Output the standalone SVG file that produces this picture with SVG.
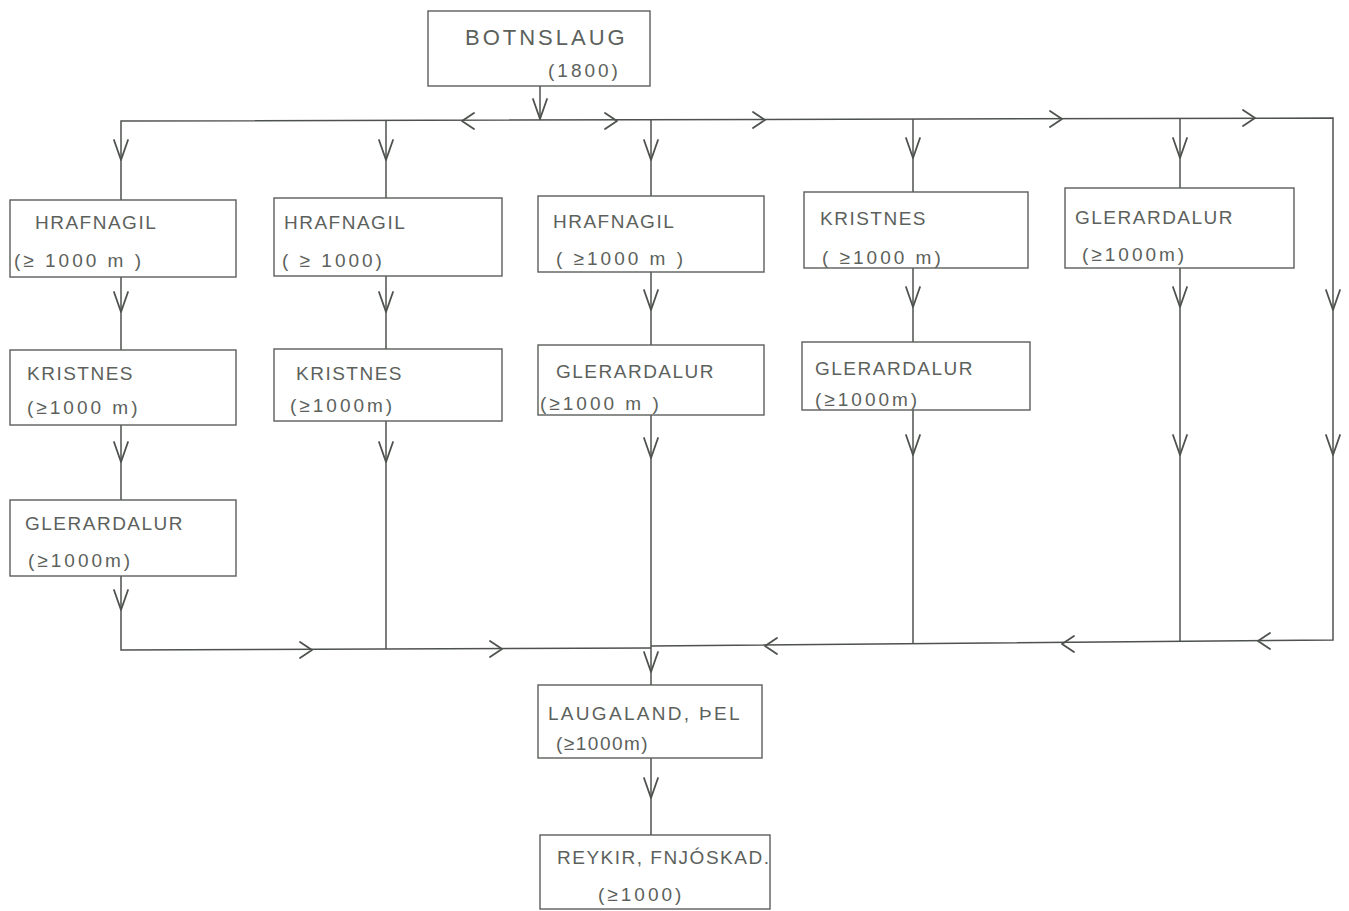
<svg xmlns="http://www.w3.org/2000/svg" xmlns:xlink="http://www.w3.org/1999/xlink" width="1349" height="911" viewBox="0 0 1349 911">
<style>
.bg{fill:#ffffff}
.box{fill:none;stroke:#5a5e5a;stroke-width:1.4}
.ln{fill:none;stroke:#4e524e;stroke-width:1.5}
.ah{fill:none;stroke:#4e524e;stroke-width:1.8;stroke-linecap:round;stroke-linejoin:round}
.t{font-family:"Liberation Sans",Arial,sans-serif;font-size:19px;fill:#5c615c;letter-spacing:1.5px}
.s{letter-spacing:3px}
</style>
<defs>
<path id="dn" class="ah" d="M-7,-20 L0,0 L7,-20"/>
<path id="rt" class="ah" d="M-12,-8 L0,0 L-12,8"/>
<path id="lt" class="ah" d="M12,-8 L0,0 L12,8"/>
</defs>
<rect class="bg" x="0" y="0" width="1349" height="911"/>

<g id="connectors">
<line class="ln" x1="540" y1="86" x2="540" y2="120"/>
<polyline class="ln" points="121,200 121,121 1333,118 1333,640 651,646"/>
<line class="ln" x1="386" y1="121" x2="386" y2="198"/>
<line class="ln" x1="651" y1="120" x2="651" y2="196"/>
<line class="ln" x1="913" y1="119" x2="913" y2="192"/>
<line class="ln" x1="1180" y1="119" x2="1180" y2="188"/>
<line class="ln" x1="121" y1="277" x2="121" y2="350"/>
<line class="ln" x1="121" y1="425" x2="121" y2="500"/>
<polyline class="ln" points="121,576 121,650 651,648"/>
<line class="ln" x1="386" y1="276" x2="386" y2="349"/>
<line class="ln" x1="386" y1="421" x2="386" y2="649"/>
<line class="ln" x1="651" y1="272" x2="651" y2="345"/>
<line class="ln" x1="651" y1="415" x2="651" y2="685"/>
<line class="ln" x1="913" y1="268" x2="913" y2="342"/>
<line class="ln" x1="913" y1="410" x2="913" y2="644"/>
<line class="ln" x1="1180" y1="268" x2="1180" y2="642"/>
<line class="ln" x1="651" y1="758" x2="651" y2="835"/>
<use xlink:href="#dn" x="540" y="119"/>
<use xlink:href="#lt" x="462" y="121"/>
<use xlink:href="#rt" x="617" y="121"/>
<use xlink:href="#rt" x="765" y="120"/>
<use xlink:href="#rt" x="1062" y="119"/>
<use xlink:href="#rt" x="1255" y="118"/>
<use xlink:href="#dn" x="121" y="160"/>
<use xlink:href="#dn" x="386" y="160"/>
<use xlink:href="#dn" x="651" y="160"/>
<use xlink:href="#dn" x="913" y="158"/>
<use xlink:href="#dn" x="1180" y="158"/>
<use xlink:href="#dn" x="121" y="312"/>
<use xlink:href="#dn" x="386" y="312"/>
<use xlink:href="#dn" x="651" y="310"/>
<use xlink:href="#dn" x="913" y="307"/>
<use xlink:href="#dn" x="1180" y="307"/>
<use xlink:href="#dn" x="1333" y="310"/>
<use xlink:href="#dn" x="121" y="462"/>
<use xlink:href="#dn" x="386" y="462"/>
<use xlink:href="#dn" x="651" y="458"/>
<use xlink:href="#dn" x="913" y="455"/>
<use xlink:href="#dn" x="1180" y="455"/>
<use xlink:href="#dn" x="1333" y="455"/>
<use xlink:href="#dn" x="121" y="610"/>
<use xlink:href="#rt" x="312" y="650"/>
<use xlink:href="#rt" x="502" y="649"/>
<use xlink:href="#lt" x="765" y="646"/>
<use xlink:href="#lt" x="1062" y="644"/>
<use xlink:href="#lt" x="1258" y="641"/>
<use xlink:href="#dn" x="651" y="672"/>
<use xlink:href="#dn" x="651" y="798"/>
</g>

<g id="botnslaug">
<rect class="box" x="428" y="11" width="222" height="75"/>
<text class="t" x="465" y="45" style="font-size:22px;letter-spacing:3px">BOTNSLAUG</text>
<text class="t s" x="548" y="77">(1800)</text>
</g>

<g id="hrafnagil-1">
<rect class="box" x="10" y="200" width="226" height="77"/>
<text class="t" x="35" y="229">HRAFNAGIL</text>
<text class="t s" x="14" y="267">(≥ 1000 m )</text>
</g>
<g id="hrafnagil-2">
<rect class="box" x="274" y="198" width="228" height="78"/>
<text class="t" x="284" y="229">HRAFNAGIL</text>
<text class="t s" x="282" y="267">( ≥ 1000)</text>
</g>
<g id="hrafnagil-3">
<rect class="box" x="538" y="196" width="226" height="76"/>
<text class="t" x="553" y="228">HRAFNAGIL</text>
<text class="t s" x="556" y="265">( ≥1000 m )</text>
</g>
<g id="kristnes-4">
<rect class="box" x="804" y="192" width="224" height="76"/>
<text class="t" x="820" y="225">KRISTNES</text>
<text class="t s" x="822" y="264">( ≥1000 m)</text>
</g>
<g id="glerardalur-5">
<rect class="box" x="1065" y="188" width="229" height="80"/>
<text class="t" x="1075" y="224">GLERARDALUR</text>
<text class="t s" x="1082" y="261">(≥1000m)</text>
</g>

<g id="kristnes-1">
<rect class="box" x="10" y="350" width="226" height="75"/>
<text class="t" x="27" y="380">KRISTNES</text>
<text class="t s" x="27" y="414">(≥1000 m)</text>
</g>
<g id="kristnes-2">
<rect class="box" x="274" y="349" width="228" height="72"/>
<text class="t" x="296" y="380">KRISTNES</text>
<text class="t s" x="290" y="412">(≥1000m)</text>
</g>
<g id="glerardalur-3">
<rect class="box" x="538" y="345" width="226" height="70"/>
<text class="t" x="556" y="378">GLERARDALUR</text>
<text class="t s" x="540" y="410">(≥1000 m )</text>
</g>
<g id="glerardalur-4">
<rect class="box" x="802" y="342" width="228" height="68"/>
<text class="t" x="815" y="375">GLERARDALUR</text>
<text class="t s" x="815" y="406">(≥1000m)</text>
</g>

<g id="glerardalur-1">
<rect class="box" x="10" y="500" width="226" height="76"/>
<text class="t" x="25" y="530">GLERARDALUR</text>
<text class="t s" x="28" y="567">(≥1000m)</text>
</g>

<g id="laugaland">
<rect class="box" x="538" y="685" width="224" height="73"/>
<text class="t" x="548" y="720" style="letter-spacing:2.3px">LAUGALAND, ÞEL</text>
<text class="t" x="556" y="750">(≥1000m)</text>
</g>
<g id="reykir">
<rect class="box" x="540" y="835" width="230" height="74"/>
<text class="t" x="557" y="864">REYKIR, FNJÓSKAD.</text>
<text class="t s" x="598" y="901">(≥1000)</text>
</g>
</svg>
